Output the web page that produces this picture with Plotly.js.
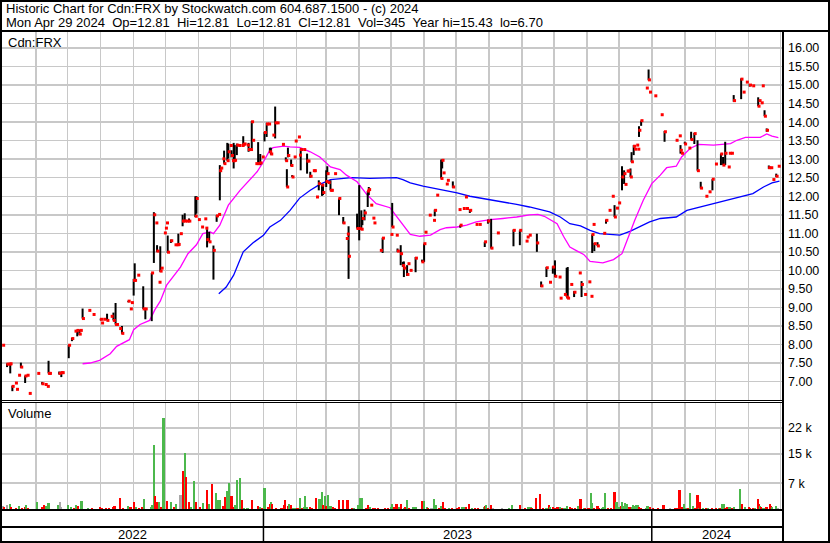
<!DOCTYPE html>
<html>
<head>
<meta charset="utf-8">
<script src="https://cdn.plot.ly/plotly-3.0.1.min.js"></script>
<style>html,body{margin:0;padding:0;background:#fff;}#chart{width:830px;height:543px;}</style>
</head>
<body>
<div id="chart"></div>
<script>
// ---------------- DATA ----------------
// trading days, given as day number counted from 2022-05-01
const dayNum = [
0,4,6,7,9,12,13,15,17,21,
23,25,33,37,40,42,43,44,53,55,
56,62,65,68,70,72,73,75,81,85,
92,93,95,98,102,104,106,107,110,112,
118,120,121,123,124,127,132,134,140,142,
144,145,147,148,149,152,153,154,155,158,
162,164,165,167,169,171,173,175,181,182,
184,187,190,191,192,194,198,201,203,204,
205,207,208,211,212,214,215,216,217,218,
220,222,225,226,227,230,231,233,234,235,
238,240,242,244,246,248,250,251,252,254,
256,258,263,266,267,268,271,272,274,275,
278,279,280,283,286,287,289,292,293,295,
297,300,301,304,305,306,308,309,312,316,
320,323,324,325,333,335,337,338,340,343,
344,346,348,349,355,357,365,366,370,371,
374,376,377,380,381,383,388,394,396,397,
401,405,406,408,412,413,414,417,418,423,
429,430,433,435,436,439,445,448,453,456,
459,465,480,486,492,493,495,502,506,511,
514,517,519,523,524,528,530,531,534,537,
542,544,547,551,553,554,555,556,559,565,
567,570,573,575,577,579,582,584,585,587,
588,590,591,593,594,596,597,598,600,605,
607,608,613,619,622,633,636,637,638,641,
645,647,650,653,656,661,664,667,670,675,
677,679,682,683,685,687,694,696,699,702,
705,710,711,713,714,716,718,720,722,724,
727,729];
const hi = [
7.98,7.49,7.47,7.50,6.89,6.96,6.79,7.17,7.51,7.16,
7.17,6.68,7.22,6.99,6.92,6.87,7.56,7.22,7.27,7.27,
7.24,7.99,8.18,8.36,8.40,8.40,8.38,8.97,8.92,8.81,
8.70,8.58,8.68,8.83,8.76,8.86,9.12,8.54,8.43,8.50,
9.18,8.96,9.13,9.77,10.19,9.87,9.57,8.96,9.93,11.57,
11.28,10.68,9.68,10.65,10.06,11.01,11.14,11.28,10.94,10.83,
10.69,10.69,10.99,10.99,11.50,11.54,11.33,11.40,12.00,12.00,
11.37,11.17,11.39,11.14,11.11,11.04,10.67,11.49,11.51,12.84,
12.76,13.01,13.23,13.44,13.42,13.37,13.24,12.96,13.44,13.38,
13.42,13.37,13.37,13.62,13.41,13.38,13.44,13.26,14.03,13.51,
12.88,13.46,13.14,13.06,13.73,13.98,13.95,13.31,13.31,13.65,
14.42,13.98,13.40,13.05,12.73,13.31,12.99,12.57,13.06,13.49,
13.60,13.11,13.29,13.26,13.15,12.95,12.66,12.69,12.69,11.98,
12.43,12.30,12.30,12.70,12.81,12.37,12.43,12.16,12.61,11.94,
11.44,10.86,10.98,11.19,11.53,12.30,11.62,11.42,11.64,12.14,
12.25,11.76,11.41,11.28,10.54,10.88,10.97,11.82,10.95,10.59,
10.68,10.23,10.24,10.14,10.18,10.00,10.36,10.29,10.72,11.03,
11.49,11.35,11.64,12.03,12.99,12.99,12.63,12.33,12.43,12.40,
11.64,11.22,11.67,11.98,11.67,11.64,11.24,11.24,10.77,11.37,
11.39,11.01,11.10,11.08,10.79,10.90,10.95,10.99,9.70,10.09,
9.68,10.11,10.27,9.82,9.25,9.35,10.07,10.09,9.62,9.44,
9.93,9.71,9.35,9.69,9.30,10.97,11.24,10.74,10.76,11.00,
11.37,11.62,12.00,11.76,11.68,11.82,12.81,12.70,12.32,12.68,
12.68,12.75,13.19,13.38,13.27,13.38,13.27,13.89,14.04,14.92,
15.42,14.81,14.71,14.20,13.76,13.51,13.63,13.38,13.16,13.47,
13.30,13.74,13.71,13.51,12.39,12.00,12.12,12.46,12.87,13.15,
13.06,13.47,12.79,13.16,13.16,14.73,15.18,14.81,15.08,15.03,
14.98,14.67,14.58,14.52,14.98,14.32,13.83,12.83,12.77,12.45,
12.61,12.81];
const lo = [
7.98,7.39,7.47,7.22,6.74,6.96,6.79,7.17,7.37,6.96,
7.17,6.68,7.22,6.92,6.92,6.87,7.22,7.22,7.19,7.12,
7.24,7.63,8.09,8.36,8.22,8.26,8.38,8.70,8.92,8.81,
8.65,8.58,8.68,8.65,8.76,8.65,8.54,8.54,8.43,8.29,
9.14,8.96,9.13,9.32,9.73,9.87,8.96,8.68,8.63,10.20,
11.28,10.50,9.68,9.96,10.06,11.01,11.14,11.28,10.47,10.74,
10.69,10.69,10.70,10.99,11.19,11.32,11.33,11.30,11.44,11.53,
11.37,11.17,11.39,11.14,10.62,10.77,9.75,11.31,11.51,11.89,
12.76,13.01,12.88,12.96,13.02,13.37,13.05,12.96,12.75,12.97,
13.11,13.37,13.37,13.33,13.41,13.38,13.20,13.26,13.26,13.51,
12.88,12.88,12.84,13.06,13.48,13.60,13.95,13.17,13.12,13.65,
13.56,13.98,13.40,12.96,12.25,13.05,12.81,12.52,13.06,13.49,
13.60,13.11,12.70,13.26,12.61,12.95,12.50,12.69,12.69,11.98,
12.16,12.01,12.03,12.25,12.57,12.37,12.16,12.16,12.61,11.49,
11.26,10.86,10.98,9.77,11.13,10.81,11.11,11.22,11.35,11.71,
12.03,11.76,11.41,11.28,10.54,10.47,10.97,11.17,10.95,10.50,
10.14,10.09,9.82,9.85,10.18,10.00,9.95,10.23,10.23,11.03,
11.49,11.35,11.46,12.03,12.48,12.75,12.63,12.33,12.43,12.23,
11.64,11.15,11.67,11.98,11.67,11.55,11.24,11.24,10.63,11.26,
10.59,11.01,10.65,10.68,10.79,10.90,10.95,10.50,9.55,9.82,
9.68,9.91,9.82,9.82,9.25,9.35,9.28,9.25,9.62,9.28,
9.93,9.28,9.35,9.69,9.30,10.47,11.24,10.52,10.66,11.00,
11.26,11.62,12.00,11.44,11.68,11.82,12.16,12.33,12.32,12.68,
12.68,12.52,12.92,13.11,13.27,13.38,13.27,13.60,13.90,14.92,
15.13,14.81,14.71,14.20,13.47,13.51,13.63,13.15,13.16,13.41,
13.30,13.53,13.41,12.69,12.21,12.00,12.12,12.16,12.87,12.84,
12.84,12.84,12.79,13.16,13.16,14.55,14.62,14.81,15.08,14.96,
14.98,14.43,14.58,14.52,14.98,14.16,13.74,12.74,12.77,12.45,
12.52,12.81];
const cl = [
7.98,7.47,7.47,7.48,6.87,6.96,6.79,7.17,7.39,7.15,
7.17,6.68,7.22,6.94,6.92,6.87,7.22,7.22,7.22,7.24,
7.24,7.98,8.16,8.36,8.38,8.28,8.38,8.70,8.92,8.81,
8.68,8.58,8.68,8.65,8.76,8.65,8.54,8.54,8.43,8.30,
9.17,8.96,9.13,9.73,9.73,9.87,8.96,8.96,9.93,11.50,
11.28,10.52,9.68,9.98,10.06,11.01,11.14,11.28,10.49,10.80,
10.69,10.69,10.70,10.99,11.33,11.33,11.33,11.33,11.46,11.94,
11.37,11.17,11.39,11.14,10.83,10.77,10.54,11.47,11.51,12.69,
12.76,13.01,12.88,12.96,13.20,13.37,13.10,12.96,12.96,12.97,
13.38,13.37,13.37,13.40,13.41,13.38,13.26,13.26,14.01,13.51,
12.88,12.88,12.90,13.06,13.72,13.95,13.95,13.20,13.14,13.65,
13.98,13.98,13.40,12.96,12.25,13.10,12.83,12.52,13.06,13.49,
13.60,13.11,13.26,13.26,12.95,12.95,12.54,12.69,12.69,11.98,
12.34,12.30,12.10,12.40,12.61,12.37,12.16,12.16,12.61,11.94,
11.28,10.86,10.98,10.38,11.13,11.13,11.11,11.40,11.55,12.14,
12.18,11.76,11.41,11.28,10.54,10.87,10.97,11.17,10.95,10.52,
10.45,10.13,10.06,9.89,10.18,10.00,10.33,10.23,10.72,11.03,
11.49,11.35,11.62,12.03,12.48,12.97,12.63,12.33,12.43,12.25,
11.64,11.22,11.67,11.98,11.67,11.62,11.24,11.24,10.77,11.33,
10.60,11.01,11.08,11.08,10.79,10.90,10.95,10.74,9.58,10.07,
9.68,10.09,9.84,9.82,9.25,9.35,9.28,9.25,9.62,9.41,
9.93,9.62,9.35,9.69,9.30,10.97,11.24,10.72,10.66,11.00,
11.35,11.62,12.00,11.44,11.68,11.82,12.52,12.61,12.32,12.68,
12.68,12.52,12.93,13.35,13.27,13.38,13.27,13.78,14.04,14.92,
15.14,14.81,14.71,14.20,13.74,13.51,13.63,13.24,13.16,13.41,
13.30,13.53,13.69,12.69,12.22,12.00,12.12,12.46,12.87,13.14,
12.84,13.16,12.79,13.16,13.16,14.58,15.16,14.81,15.08,15.00,
14.98,14.43,14.58,14.52,14.98,14.16,13.78,12.77,12.77,12.45,
12.54,12.81];

// short moving average (magenta)
const maShortDay = [75,82,91,101,107,119,123,129,138,143,148,154,167,174,182,188,195,198,204,212,223,234,239,245,251,254,264,270,279,289,298,308,317,323,333,342,351,364,373,383,392,402,411,417,427,436,445,458,470,483,495,503,509,514,521,527,533,540,546,552,564,574,582,588,594,602,610,618,624,633,638,646,654,668,684,690,698,712,718,723,729];
const maShortVal = [7.48,7.50,7.57,7.75,7.95,8.13,8.40,8.54,8.65,8.94,9.17,9.60,10.09,10.45,10.69,10.99,11.04,10.99,11.22,11.76,12.16,12.52,12.66,12.93,13.24,13.31,13.35,13.33,13.32,13.20,13.06,12.79,12.72,12.57,12.39,12.05,11.80,11.69,11.35,10.97,10.92,10.95,11.10,11.15,11.17,11.22,11.31,11.37,11.40,11.44,11.50,11.51,11.46,11.37,11.26,10.92,10.63,10.52,10.43,10.24,10.20,10.29,10.45,10.90,11.35,11.89,12.34,12.57,12.77,12.81,13.06,13.29,13.40,13.38,13.42,13.51,13.59,13.59,13.68,13.62,13.58];
// long moving average (blue)
const maLongDay = [203,210,217,226,235,245,251,261,270,279,289,298,308,317,328,345,358,370,376,383,395,411,427,439,452,464,483,495,508,514,524,533,543,552,561,580,590,599,608,618,633,643,655,668,680,693,705,715,723,730];
const maLongVal = [9.37,9.55,9.87,10.50,10.74,10.95,11.17,11.35,11.62,11.95,12.16,12.32,12.45,12.48,12.50,12.48,12.50,12.50,12.45,12.36,12.27,12.18,12.09,12.00,11.94,11.87,11.78,11.71,11.62,11.58,11.44,11.26,11.20,11.08,10.99,10.95,11.06,11.19,11.31,11.40,11.44,11.62,11.71,11.80,11.89,11.98,12.07,12.25,12.36,12.41];

// volume (thousands of shares), day number from 2022-05-01, direction g=up r=down n=unchanged
const volDay = [0,1,4,7,8,12,15,18,21,22,24,32,37,39,41,43,52,54,55,61,64,67,69,71,74,80,84,91,93,97,100,104,105,110,113,118,120,123,125,128,131,133,139,140,142,143,145,147,149,151,154,158,161,163,167,169,171,172,175,177,180,182,185,188,192,194,197,200,202,204,207,209,211,213,215,217,218,220,223,225,227,230,234,240,242,244,246,249,251,252,253,257,262,264,265,268,269,271,273,275,277,279,281,283,284,286,289,291,294,297,299,300,301,303,304,306,308,310,312,316,320,324,328,330,334,336,338,341,343,345,348,350,353,359,362,365,366,368,370,372,374,377,378,380,382,386,388,394,396,399,400,403,405,407,410,412,414,416,419,422,427,429,432,434,435,438,441,444,447,452,453,454,456,459,461,469,476,479,486,491,494,496,497,501,505,508,511,513,514,517,519,521,523,524,526,528,530,533,535,538,541,543,546,547,550,551,553,554,556,559,560,563,564,566,569,572,575,576,577,579,581,582,583,585,587,589,591,592,594,595,597,598,600,605,606,608,611,616,621,627,632,634,636,638,640,642,644,646,649,651,653,654,655,658,661,663,667,670,673,674,676,678,679,681,683,685,687,693,695,698,701,702,705,707,710,711,712,713,715,717,718,721,722,723,727,729];
const volK = [0.8,0.5,1.1,1.4,0.6,0.4,0.8,0.4,0.5,1.1,0.4,1.9,0.5,1.2,0.8,1.6,1.0,1.9,0.6,1.1,0.6,0.4,1.0,0.8,2.2,0.4,0.4,0.6,0.4,0.4,0.3,0.6,0.9,3.1,0.3,0.9,0.5,2.0,0.6,0.4,0.6,2.7,0.6,1.0,17.4,3.5,1.9,1.8,0.5,24.8,2.2,2.0,0.6,1.4,3.8,10.3,15.2,8.6,1.8,0.6,7.6,1.8,0.5,1.6,5.2,1.4,6.8,4.3,2.5,2.4,0.8,3.3,5.0,7.0,3.4,0.6,1.0,7.9,8.3,2.5,0.4,0.4,2.4,0.8,0.6,0.4,5.6,0.6,1.3,1.8,1.4,0.4,0.4,1.0,2.5,0.8,1.4,1.0,0.4,0.4,0.3,2.9,0.4,0.6,3.4,0.6,0.5,0.3,2.9,2.7,2.7,4.5,1.2,3.6,0.8,3.7,0.8,0.6,0.3,2.4,2.4,2.4,0.3,0.3,1.0,2.9,2.9,0.4,1.0,0.6,0.4,0.4,0.3,0.3,0.3,0.6,1.4,0.6,1.3,0.6,1.3,0.3,0.5,2.4,0.3,0.6,0.6,2.2,2.2,0.6,0.3,0.3,2.7,1.0,0.4,0.8,1.9,0.4,0.3,0.3,0.4,0.6,0.6,0.6,0.6,1.4,0.3,0.4,0.3,0.6,0.8,1.2,0.3,1.2,0.3,0.3,0.3,1.0,1.2,0.3,0.6,0.6,0.3,3.0,4.1,0.3,0.3,1.0,0.6,0.6,0.3,0.5,0.6,0.6,0.3,0.3,0.8,0.5,0.3,0.3,0.8,2.7,0.3,0.3,0.3,0.3,4.3,1.6,0.3,0.8,0.3,0.3,0.6,4.3,0.3,0.3,4.6,1.8,2.0,0.6,0.8,1.8,0.8,1.6,1.3,0.6,0.6,1.0,0.8,1.0,1.0,0.6,0.3,0.3,0.8,0.6,0.3,0.3,1.2,0.3,0.3,0.3,5.2,0.6,1.4,0.3,0.3,4.3,0.8,0.3,3.7,0.3,2.0,0.3,0.3,0.3,0.3,0.3,0.3,0.3,1.4,1.4,0.3,0.5,0.5,0.3,0.6,5.4,1.4,0.6,0.6,0.3,0.3,0.3,2.7,1.4,0.8,0.6,0.3,0.6,0.6,1.4,0.8,0.6,0.9,0.345];
const volDir = ['n','r','n','g','r','r','g','r','r','g','r','g','r','r','g','g','g','n','n','g','g','r','g','r','g','g','r','r','r','r','r','r','r','r','r','g','r','r','g','r','r','g','g','g','g','r','r','g','r','g','r','g','r','g','n','r','g','r','r','g','g','r','r','g','r','g','r','g','g','g','r','r','g','g','r','r','g','g','g','r','g','g','r','r','g','r','g','r','r','g','r','r','r','r','r','r','g','r','g','g','r','g','r','g','g','g','r','r','r','g','g','g','r','g','r','g','g','r','r','r','r','r','r','g','g','g','g','r','r','g','r','r','r','r','r','g','g','r','r','g','r','g','r','g','r','g','g','r','g','g','r','n','g','g','r','g','r','r','g','r','r','r','g','g','r','r','g','r','r','g','r','g','r','r','n','n','g','g','r','r','g','g','r','r','r','r','g','r','g','r','r','r','r','g','r','g','g','r','r','r','g','r','g','r','r','r','g','g','r','r','r','g','g','g','r','r','r','g','g','g','r','g','g','g','g','r','g','g','g','g','g','r','r','g','g','r','r','r','r','n','r','r','r','r','g','g','r','g','g','r','r','g','r','g','r','g','r','r','g','r','g','g','r','r','g','r','g','g','r','g','r','r','r','g','r','r','g','r','g','r','r','r','r','g','g','n'];

const volTickVals = [7000,15000,22000];
const volTickText = ['7 k','15 k','22 k'];
const yearLabels = ['2022','2023','2024'];
const titleLine1 = 'Historic Chart for Cdn:FRX by Stockwatch.com 604.687.1500 - (c) 2024';
const titleLine2 = 'Mon Apr 29 2024\u00a0\u00a0Op=12.81\u00a0\u00a0Hi=12.81\u00a0\u00a0Lo=12.81\u00a0\u00a0Cl=12.81\u00a0\u00a0Vol=345\u00a0\u00a0Year hi=15.43\u00a0\u00a0lo=6.70';
const symbolLabel = 'Cdn:FRX';
const volumeLabel = 'Volume';

// ---------------- HELPERS ----------------
const DAY = 864e5;
const T0 = Date.UTC(2022, 4, 1);
function fmt(ms) {
  const d = new Date(ms);
  const p = n => String(n).padStart(2, '0');
  return d.getUTCFullYear() + '-' + p(d.getUTCMonth() + 1) + '-' + p(d.getUTCDate()) + ' ' +
    p(d.getUTCHours()) + ':' + p(d.getUTCMinutes()) + ':' + p(d.getUTCSeconds());
}
const toDate = d => fmt(T0 + d * DAY);

// frame geometry (pixels)
const PL = 2, PR = 782, PT = 32, PB = 509;
const px = x => (x - PL) / (PR - PL);
const py = y => (PB - y) / (PB - PT);
const xStartMs = T0 - 0.75 * DAY, xEndMs = T0 + 732.4 * DAY;
const msToPaper = ms => (ms - xStartMs) / (xEndMs - xStartMs);

// ---------------- TRACES ----------------
const segX = [], segY = [];
dayNum.forEach((d, i) => {
  if (hi[i] > lo[i]) { const t = toDate(d); segX.push(t, t, null); segY.push(lo[i], hi[i], null); }
});
const closeX = dayNum.map(d => fmt(T0 + (d + 0.8) * DAY));

const colorMap = { g: '#4cb84c', r: '#ff0000', n: '#a8a8a8' };

const traces = [
  { type: 'scatter', mode: 'lines', x: maLongDay.map(toDate), y: maLongVal, xaxis: 'x', yaxis: 'y',
    line: { color: '#0000ff', width: 1.3 }, hoverinfo: 'skip' },
  { type: 'scatter', mode: 'lines', x: maShortDay.map(toDate), y: maShortVal, xaxis: 'x', yaxis: 'y',
    line: { color: '#ff00ff', width: 1.3 }, hoverinfo: 'skip' },
  { type: 'scatter', mode: 'lines', x: segX, y: segY, xaxis: 'x', yaxis: 'y',
    line: { color: '#000000', width: 2 }, connectgaps: false, hoverinfo: 'skip' },
  { type: 'scatter', mode: 'markers', x: closeX, y: cl, xaxis: 'x', yaxis: 'y',
    marker: { symbol: 'square', size: 3, color: '#ff0000', line: { width: 0 } }, hoverinfo: 'skip' },
  { type: 'bar', x: volDay.map(toDate), y: volK.map(v => v * 1000), xaxis: 'x', yaxis: 'y2',
    width: 2.0 * DAY, marker: { color: volDir.map(c => colorMap[c]), line: { width: 0 } }, hoverinfo: 'skip' }
];

// ---------------- LAYOUT ----------------
const gridColor = '#c8c8c8';
const fontFam = 'Liberation Sans, Arial, sans-serif';
const y2023 = msToPaper(Date.UTC(2023, 0, 1));
const y2024 = msToPaper(Date.UTC(2024, 0, 1));
const yearCenters = [y2023 / 2, (y2023 + y2024) / 2, (y2024 + 1) / 2];

const ann = (text, x, y, xanchor, size) => ({
  text, x, y, xref: 'paper', yref: 'paper', xanchor, yanchor: 'middle', showarrow: false,
  font: { family: fontFam, size, color: '#000' }, borderpad: 0
});
const annotations = [
  ann(titleLine1, px(5), py(8.5), 'left', 13),
  ann(titleLine2, px(5), py(22.5), 'left', 13),
  ann(symbolLabel, px(7), py(42), 'left', 13),
  ann(volumeLabel, px(7), py(413), 'left', 13)
].concat(yearLabels.map((t, i) => ann(t, yearCenters[i], py(534.5), 'center', 13)));

const hline = (y, x0, x1, w) => ({ type: 'line', xref: 'paper', yref: 'paper', x0: px(x0), x1: px(x1), y0: py(y), y1: py(y), line: { color: '#000', width: w } });
const vline = (x, y0, y1, w) => ({ type: 'line', xref: 'paper', yref: 'paper', x0: x, x1: x, y0: py(y0), y1: py(y1), line: { color: '#000', width: w } });
const shapes = [
  hline(1, 0, 830, 2),
  hline(31, 0, 830, 2),
  hline(400.5, 0, 782, 1),
  hline(402.5, 0, 782, 1),
  hline(510, 0, 782, 2),
  hline(527, 0, 782, 2),
  hline(542, 0, 830, 2),
  vline(px(1), 0, 543, 2),
  vline(px(783), 31, 543, 2),
  vline(px(829), 0, 543, 2),
  vline(y2023, 510, 542, 1.5),
  vline(y2024, 510, 542, 1.5)
];

const layout = {
  width: 830, height: 543,
  margin: { l: PL, r: 830 - PR, t: PT, b: 543 - PB, pad: 0 },
  paper_bgcolor: '#ffffff', plot_bgcolor: '#ffffff',
  showlegend: false,
  font: { family: fontFam, size: 12.5, color: '#000' },
  bargap: 0,
  xaxis: {
    type: 'date', range: [fmt(xStartMs), fmt(xEndMs)], tick0: '2022-05-01', dtick: 'M1',
    showgrid: true, gridcolor: gridColor, gridwidth: 1.5, showticklabels: false, ticks: '',
    zeroline: false, showline: false, fixedrange: true
  },
  yaxis: {
    domain: [py(400), 1], range: [6.502, 16.432], side: 'right', tick0: 0, dtick: 0.5, tickformat: '.2f',
    showgrid: true, gridcolor: gridColor, gridwidth: 1.5, zeroline: false, showline: false, ticks: '',
    ticklabelstandoff: 5, tickfont: { family: fontFam, size: 12.5, color: '#000' }, fixedrange: true
  },
  yaxis2: {
    domain: [0, py(403)], range: [0, 28800], side: 'right', anchor: 'x', tickmode: 'array',
    tickvals: volTickVals, ticktext: volTickText,
    showgrid: true, gridcolor: gridColor, gridwidth: 1.5, zeroline: false, showline: false, ticks: '',
    ticklabelstandoff: 5, tickfont: { family: fontFam, size: 12.5, color: '#000' }, fixedrange: true
  },
  annotations, shapes
};

Plotly.newPlot('chart', traces, layout, { staticPlot: true, displayModeBar: false });
</script>
</body>
</html>
